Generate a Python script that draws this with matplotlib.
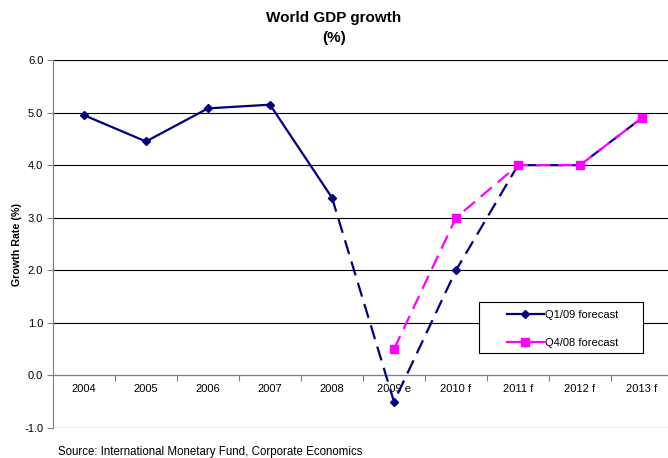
import matplotlib
matplotlib.use("Agg")
import matplotlib.pyplot as plt
from matplotlib.lines import Line2D
from matplotlib.patches import Rectangle

plt.rcParams['font.family'] = ['Liberation Sans', 'DejaVu Sans']

years = ["2004", "2005", "2006", "2007", "2008", "2009 e", "2010 f", "2011 f", "2012 f", "2013 f"]
q1_09 = [4.95, 4.45, 5.08, 5.15, 3.38, -0.5, 2.0, 4.0, 4.0, 4.9]
q4_08_years = ["2009 e", "2010 f", "2011 f", "2012 f", "2013 f"]
q4_08 = [0.5, 3.0, 4.0, 4.0, 4.9]
n_actual = 5  # 2004-2008 are outturns, the rest are estimates/forecasts

navy = "#000080"
magenta = "#FF00FF"
fs = 8

fig = plt.figure(figsize=(6.68, 4.58), dpi=100)
W, H = 668, 458
ax = fig.add_axes([53 / W, 1 - 428 / H, 615 / W, 368 / H])

x = list(range(len(years)))
xq4 = [years.index(y) for y in q4_08_years]

# solid history, dashed forecast
ax.plot(x[:n_actual], q1_09[:n_actual], color=navy, lw=1.6, marker="D", ms=4, zorder=3)
ax.plot(x[n_actual - 1:], q1_09[n_actual - 1:], color=navy, lw=1.6, dashes=(6.5, 3.5),
        marker="D", ms=4, zorder=3, markevery=list(range(1, len(x) - n_actual + 1)))
ax.plot(xq4, q4_08, color=magenta, lw=1.6, dashes=(6.5, 3.5), marker="s", ms=6, zorder=4)

ax.set_ylim(-1.0, 6.0)
ax.set_xlim(-0.5, 9.5 - 5 / 62)
ax.set_yticks(range(-1, 7))
ax.set_yticklabels([f"{v:.1f}" for v in range(-1, 7)])
ax.grid(axis="y", color="black", lw=0.8)
ax.set_axisbelow(True)

# category boundaries as ticks on the zero line, labels at category centres
ax.set_xticks([i + 0.5 for i in range(len(years) - 1)])
ax.set_xticklabels([])
ax.set_xticks(x, minor=True)
ax.set_xticklabels(years, minor=True)
ax.tick_params(axis="x", which="major", length=4, direction="out", color="#808080")
ax.tick_params(axis="x", which="minor", length=0, pad=6, labelsize=fs)
ax.tick_params(axis="y", length=4, direction="out", color="#808080", pad=3, labelsize=fs)

ax.spines["bottom"].set_position(("data", 0))
ax.spines["bottom"].set_color("#808080")
ax.spines["left"].set_color("#808080")
ax.spines["top"].set_visible(False)
ax.spines["right"].set_visible(False)

ax.set_ylabel("Growth Rate (%)", fontsize=7.7, fontweight="bold")
ax.yaxis.set_label_coords(-31 / 615, 0.5)

# legend box
ax.add_patch(Rectangle(((479 - 53) / 615, (428 - 353) / 368), 164 / 615, 51 / 368,
                       transform=ax.transAxes, facecolor="white", edgecolor="black",
                       lw=0.8, zorder=5))
handles = [
    Line2D([], [], color=navy, lw=1.6, marker="D", ms=4),
    Line2D([], [], color=magenta, lw=1.6, marker="s", ms=6),
]
leg = ax.legend(handles, ["Q1/09 forecast", "Q4/08 forecast"], loc="upper left",
                bbox_to_anchor=((507 - 53) / 615, (428 - 310) / 368),
                fontsize=fs, frameon=False, labelspacing=1.6, handlelength=3.3,
                handletextpad=0.15, borderpad=0, borderaxespad=0)
leg.set_zorder(6)

fig.text(0.5, 1 - 18 / H, "World GDP growth", ha="center", va="center",
         fontsize=11, fontweight="bold")
fig.text(0.5, 1 - 38 / H, "(%)", ha="center", va="center", fontsize=11, fontweight="bold")
fig.text(58 / W, 1 - 452 / H, "Source: International Monetary Fund, Corporate Economics",
         ha="left", va="center", fontsize=8.3)

fig.savefig("out.png", dpi=100)
